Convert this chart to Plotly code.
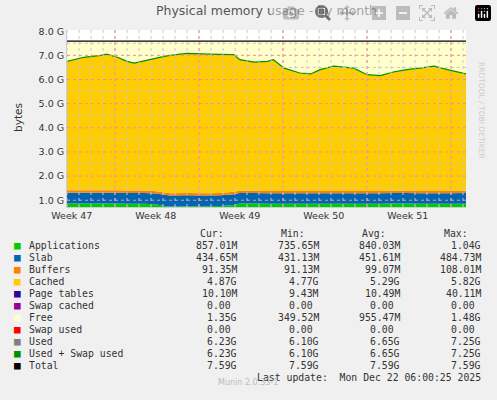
import plotly.graph_objects as go

# days since left edge of the graph (Mon 17 Nov 2025 ~ 00:00)
days = [0.0, 1.4, 2.8, 3.3, 4.2, 5.0, 5.6, 6.4, 7.5, 8.1, 8.6, 10.0, 11.7, 12.8, 13.9, 14.4,
        15.6, 16.7, 17.2, 18.1, 19.4, 20.3, 21.1, 22.2, 23.1, 23.9, 25.0, 26.1, 27.2, 28.3,
        29.4, 30.6, 31.7, 33.3]
used = [6.75, 6.92, 7.00, 7.05, 6.92, 6.75, 6.68, 6.78, 6.90, 6.96, 7.00, 7.08, 7.05, 7.05,
        7.03, 6.82, 6.72, 6.75, 6.82, 6.47, 6.27, 6.23, 6.41, 6.55, 6.50, 6.47, 6.20, 6.16,
        6.31, 6.41, 6.47, 6.55, 6.41, 6.23]
apps = [0.86, 0.86, 0.86, 0.86, 0.86, 0.85, 0.85, 0.85, 0.82, 0.76, 0.74, 0.75, 0.75, 0.76,
        0.80, 0.86, 0.86, 0.85, 0.85, 0.85, 0.85, 0.85, 0.85, 0.85, 0.85, 0.85, 0.85, 0.85,
        0.86, 0.86, 0.85, 0.85, 0.85, 0.86]
slab = [0.45] * 8 + [0.46, 0.47, 0.46, 0.46, 0.45, 0.45, 0.45] + [0.44] * 19
buffers = [0.10] * 8 + [0.09, 0.09, 0.09, 0.09, 0.09, 0.09, 0.10] + [0.09] * 19
total = 7.59
cached = [u - a - s - b for u, a, s, b in zip(used, apps, slab, buffers)]
free = [total - u for u in used]

week_pos = [0.4, 7.4, 14.4, 21.4, 28.4]
week_labels = ["Week 47", "Week 48", "Week 49", "Week 50", "Week 51"]
y_ticks = [1, 2, 3, 4, 5, 6, 7, 8]

legend_names = ["Applications", "Slab", "Buffers", "Cached", "Page tables", "Swap cached",
                "Free", "Swap used", "Used", "Used + Swap used", "Total"]
legend_colors = ["#00cc00", "#0066b3", "#ff8000", "#ffcc00", "#330099", "#990099",
                 "#ffffcc", "#ff0000", "#808080", "#008f00", "#000000"]
cur = ["857.01M", "434.65M", "91.35M", "4.87G", "10.10M", "0.00 ", "1.35G", "0.00 ", "6.23G", "6.23G", "7.59G"]
mins = ["735.65M", "431.13M", "91.13M", "4.77G", "9.43M", "0.00 ", "349.52M", "0.00 ", "6.10G", "6.10G", "7.59G"]
avgs = ["840.03M", "451.61M", "99.07M", "5.29G", "10.49M", "0.00 ", "955.47M", "0.00 ", "6.65G", "6.65G", "7.59G"]
maxs = ["1.04G", "484.73M", "108.01M", "5.82G", "40.11M", "0.00 ", "1.48G", "0.00 ", "7.25G", "7.25G", "7.59G"]

X_MAX = 33.25
Y_MIN, Y_MAX = 0.72, 8.05

fig = go.Figure()
for name, vals, col in [("Applications", apps, "#00cc00"), ("Slab", slab, "#0066b3"),
                        ("Buffers", buffers, "#ff8000"), ("Cached", cached, "#ffcc00"),
                        ("Free", free, "#ffffcc")]:
    fig.add_trace(go.Scatter(x=days, y=vals, name=name, stackgroup="mem", mode="none",
                             fillcolor=col))
fig.add_trace(go.Scatter(x=days, y=used, mode="lines", line=dict(color="#008f00", width=1.2)))
fig.add_trace(go.Scatter(x=[days[0], days[-1]], y=[total, total], mode="lines",
                         line=dict(color="#000000", width=1.2)))

# grid drawn above the filled areas, as rrdtool does
shapes = []
for k in range(0, 34):
    shapes.append(dict(type="line", xref="x", yref="paper", x0=k, x1=k, y0=0, y1=1,
                       line=dict(color="#c8c8c8", width=1, dash="dot"), layer="above"))
for k in range(4, 34, 7):
    shapes.append(dict(type="line", xref="x", yref="paper", x0=k, x1=k, y0=0, y1=1,
                       line=dict(color="#f09090", width=1, dash="dot"), layer="above"))
for k in range(1, 16):
    v = k * 0.5
    col = "#f09090" if v in y_ticks else "#c8c8c8"
    shapes.append(dict(type="line", xref="paper", yref="y", x0=0, x1=1, y0=v, y1=v,
                       line=dict(color=col, width=1, dash="dot"), layer="above"))

L, R, T, B = 67, 31, 30, 193
pw, ph = 497 - L - R, 400 - T - B


def px(x):
    return (x - L) / pw


def py(y):
    return (400 - B - y) / ph


mono = "DejaVu Sans Mono"
ann = []
ann.append(dict(text="Cur:", x=px(226), y=py(233), xanchor="right"))
ann.append(dict(text="Min:", x=px(307), y=py(233), xanchor="right"))
ann.append(dict(text="Avg:", x=px(388), y=py(233), xanchor="right"))
ann.append(dict(text="Max:", x=px(470), y=py(233), xanchor="right"))
for i, nm in enumerate(legend_names):
    yy = py(245 + 12 * i)
    ann.append(dict(text="■", x=px(12), y=yy, xanchor="left", font=dict(color=legend_colors[i], size=11, family=mono)))
    ann.append(dict(text=nm, x=px(27), y=yy, xanchor="left"))
    for xr, col in [(239, cur), (321, mins), (402, avgs), (483, maxs)]:
        ann.append(dict(text=col[i], x=px(xr), y=yy, xanchor="right"))
ann.append(dict(text="Last update:  Mon Dec 22 06:00:25 2025", x=px(483), y=py(377), xanchor="right"))
for a in ann:
    a.update(xref="paper", yref="paper", showarrow=False, yanchor="middle")
    a.setdefault("font", dict(family=mono, size=9.8, color="#333333"))
ann.append(dict(text="Munin 2.0.33-1", x=px(248), y=py(389), xref="paper", yref="paper", showarrow=False,
                font=dict(family="DejaVu Sans", size=8, color="#bbbbbb")))
ann.append(dict(text="RRDTOOL / TOBI OETIKER", x=px(488), y=py(60), xref="paper", yref="paper",
                showarrow=False, textangle=90, font=dict(family="DejaVu Sans", size=7.5, color="#cccccc")))
ann.append(dict(text="bytes", x=px(10), y=py(118), xref="paper", yref="paper", showarrow=False,
                textangle=-90, font=dict(family="DejaVu Sans", size=10.5, color="#333333")))

fig.update_layout(
    width=497, height=400, margin=dict(l=L, r=R, t=T, b=B),
    paper_bgcolor="#f0f0f0", plot_bgcolor="#ffffff", showlegend=False,
    title=dict(text="Physical memory usage - by month", x=0.5, xref="paper", y=0.985,
               font=dict(family="DejaVu Sans", size=12.5, color="#555555")),
    font=dict(family="DejaVu Sans", size=9.5, color="#333333"),
    xaxis=dict(range=[0, X_MAX], tickvals=week_pos, ticktext=week_labels, showgrid=False,
               zeroline=False, ticks="", showline=True, linecolor="#ccccdd"),
    yaxis=dict(range=[Y_MIN, Y_MAX], tickvals=y_ticks,
               ticktext=["%.1f G" % v for v in y_ticks],
               showgrid=False, zeroline=False, ticks="", showline=True, linecolor="#ccccdd"),
    shapes=shapes,
    annotations=ann,
)

fig.write_html("out.html", post_script="document.body.style.margin='0';")
